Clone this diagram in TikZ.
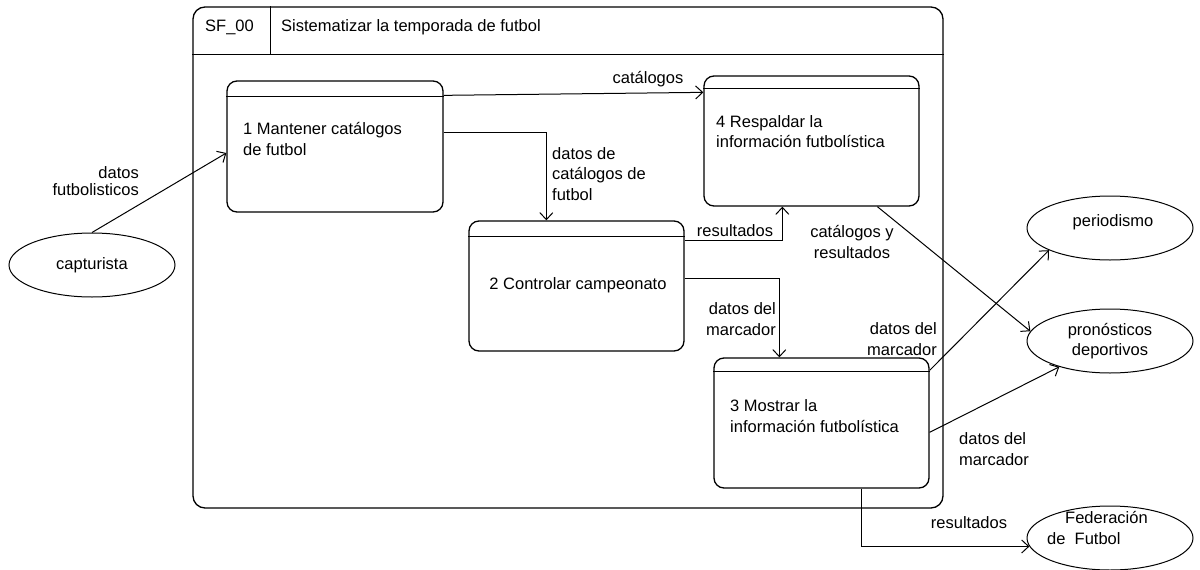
\documentclass[tikz,border=0pt]{standalone}
\usepackage{fontspec}
\setmainfont{Liberation Sans}
\usetikzlibrary{arrows.meta,calc,shapes.geometric}
\begin{document}
\begin{tikzpicture}[x=1pt,y=-1pt,
  every node/.style={font=\fontsize{16.5}{20.5}\selectfont, inner sep=0pt},
  proc/.style={draw, line width=1.3pt, rounded corners=10pt},
  ext/.style={draw, ellipse, line width=1pt, minimum width=166pt, minimum height=64pt},
  flow/.style={line width=1pt, -{Straight Barb[length=7pt,width=13pt,line width=1pt]}},
  sep/.style={line width=1.3pt},
]
\useasboundingbox (0,0) rectangle (1200,570);
% frame
\node[draw, line width=1.3pt, rounded corners=12pt, minimum width=750pt, minimum height=501pt] (frame) at (568,257.5) {};
\draw[sep] ($(frame.north west)+(0,48)$) -- ($(frame.north east)+(0,48)$);
\draw[sep] ($(frame.north west)+(78,0)$) -- ($(frame.north west)+(78,48)$);
\node[anchor=west] (sf) at (205,27) {SF\_00};
\node[anchor=west] (title) at (281,27) {Sistematizar la temporada de futbol};
% processes
\node[proc, minimum width=216pt, minimum height=131pt] (b1) at (335,146.5) {};
\draw[sep] ($(b1.north west)+(0,16)$) -- ($(b1.north east)+(0,16)$);
\node[anchor=west, align=left] (t1) at (243,139) {1 Mantener catálogos\\de futbol};
\node[proc, minimum width=215pt, minimum height=130pt] (b4) at (811.5,141) {};
\draw[sep] ($(b4.north west)+(0,13)$) -- ($(b4.north east)+(0,13)$);
\node[anchor=west, align=left] (t4) at (716,131.5) {4 Respaldar la\\información futbolística};
\node[proc, minimum width=215pt, minimum height=130pt] (b2) at (576.5,286) {};
\draw[sep] ($(b2.north west)+(0,16)$) -- ($(b2.north east)+(0,16)$);
\node (t2) at (578,285) {2 Controlar campeonato};
\node[proc, minimum width=215pt, minimum height=130pt] (b3) at (821.5,423) {};
\draw[sep] ($(b3.north west)+(0,14)$) -- ($(b3.north east)+(0,14)$);
\node[anchor=west, align=left] (t3) at (730,416) {3 Mostrar la\\información futbolística};
% externals
\node[ext] (cap) at (92,265) {capturista};
\node[ext] (peri) at (1110,228) {};
\node (tperi) at (1113,222) {periodismo};
\node[ext, align=center] (pron) at (1110,341) {pronósticos\\deportivos};
\node[ext] (fed) at (1110,538) {};
\node[anchor=west, align=left] (tfed) at (1047,528) {\hspace{18pt}Federación\\de\ \ Futbol};
% flows
\draw[flow] (cap.north) -- ($(b1.west)+(0,6.5)$);
\draw[flow] ($(b1.north east)+(0,15)$) -- ($(b4.north west)+(0,17)$);
\draw[flow] ($(b1.north east)+(0,52)$) -| ($(b2.north west)+(78,0)$);
\draw[flow] ($(b2.north east)+(0,20)$) -| ($(b4.south west)+(79,0)$);
\draw[flow] ($(b2.north east)+(0,58)$) -| ($(b3.north west)+(66,0)$);
\draw[flow] ($(b4.south west)+(174,0)$) -- (pron.173);
\draw[flow] ($(b3.north east)+(0,13)$) -- (peri.200);
\draw[flow] ($(b3.north east)+(0,75)$) -- (pron.207);
\draw[flow] ($(b3.south west)+(148,0)$) |- (fed.186);
% labels
\node[anchor=east, align=right, font=\fontsize{16.5}{17}\selectfont] (l1) at (139,181) {datos\\futbolisticos};
\node (l2) at (648,79) {catálogos};
\node[anchor=west, align=left] (l3) at (552,174) {datos de\\catálogos de\\futbol};
\node (l4) at (735,231) {resultados};
\node[align=center] (l5) at (852,242) {catálogos y\\resultados};
\node[anchor=east, align=right] (l6) at (776,319) {datos del\\marcador};
\node[anchor=east, align=right] (l7) at (937,339) {datos del\\marcador};
\node[anchor=west, align=left] (l8) at (959,449) {datos del\\marcador};
\node (l9) at (969,523) {resultados};
\end{tikzpicture}
\end{document}
